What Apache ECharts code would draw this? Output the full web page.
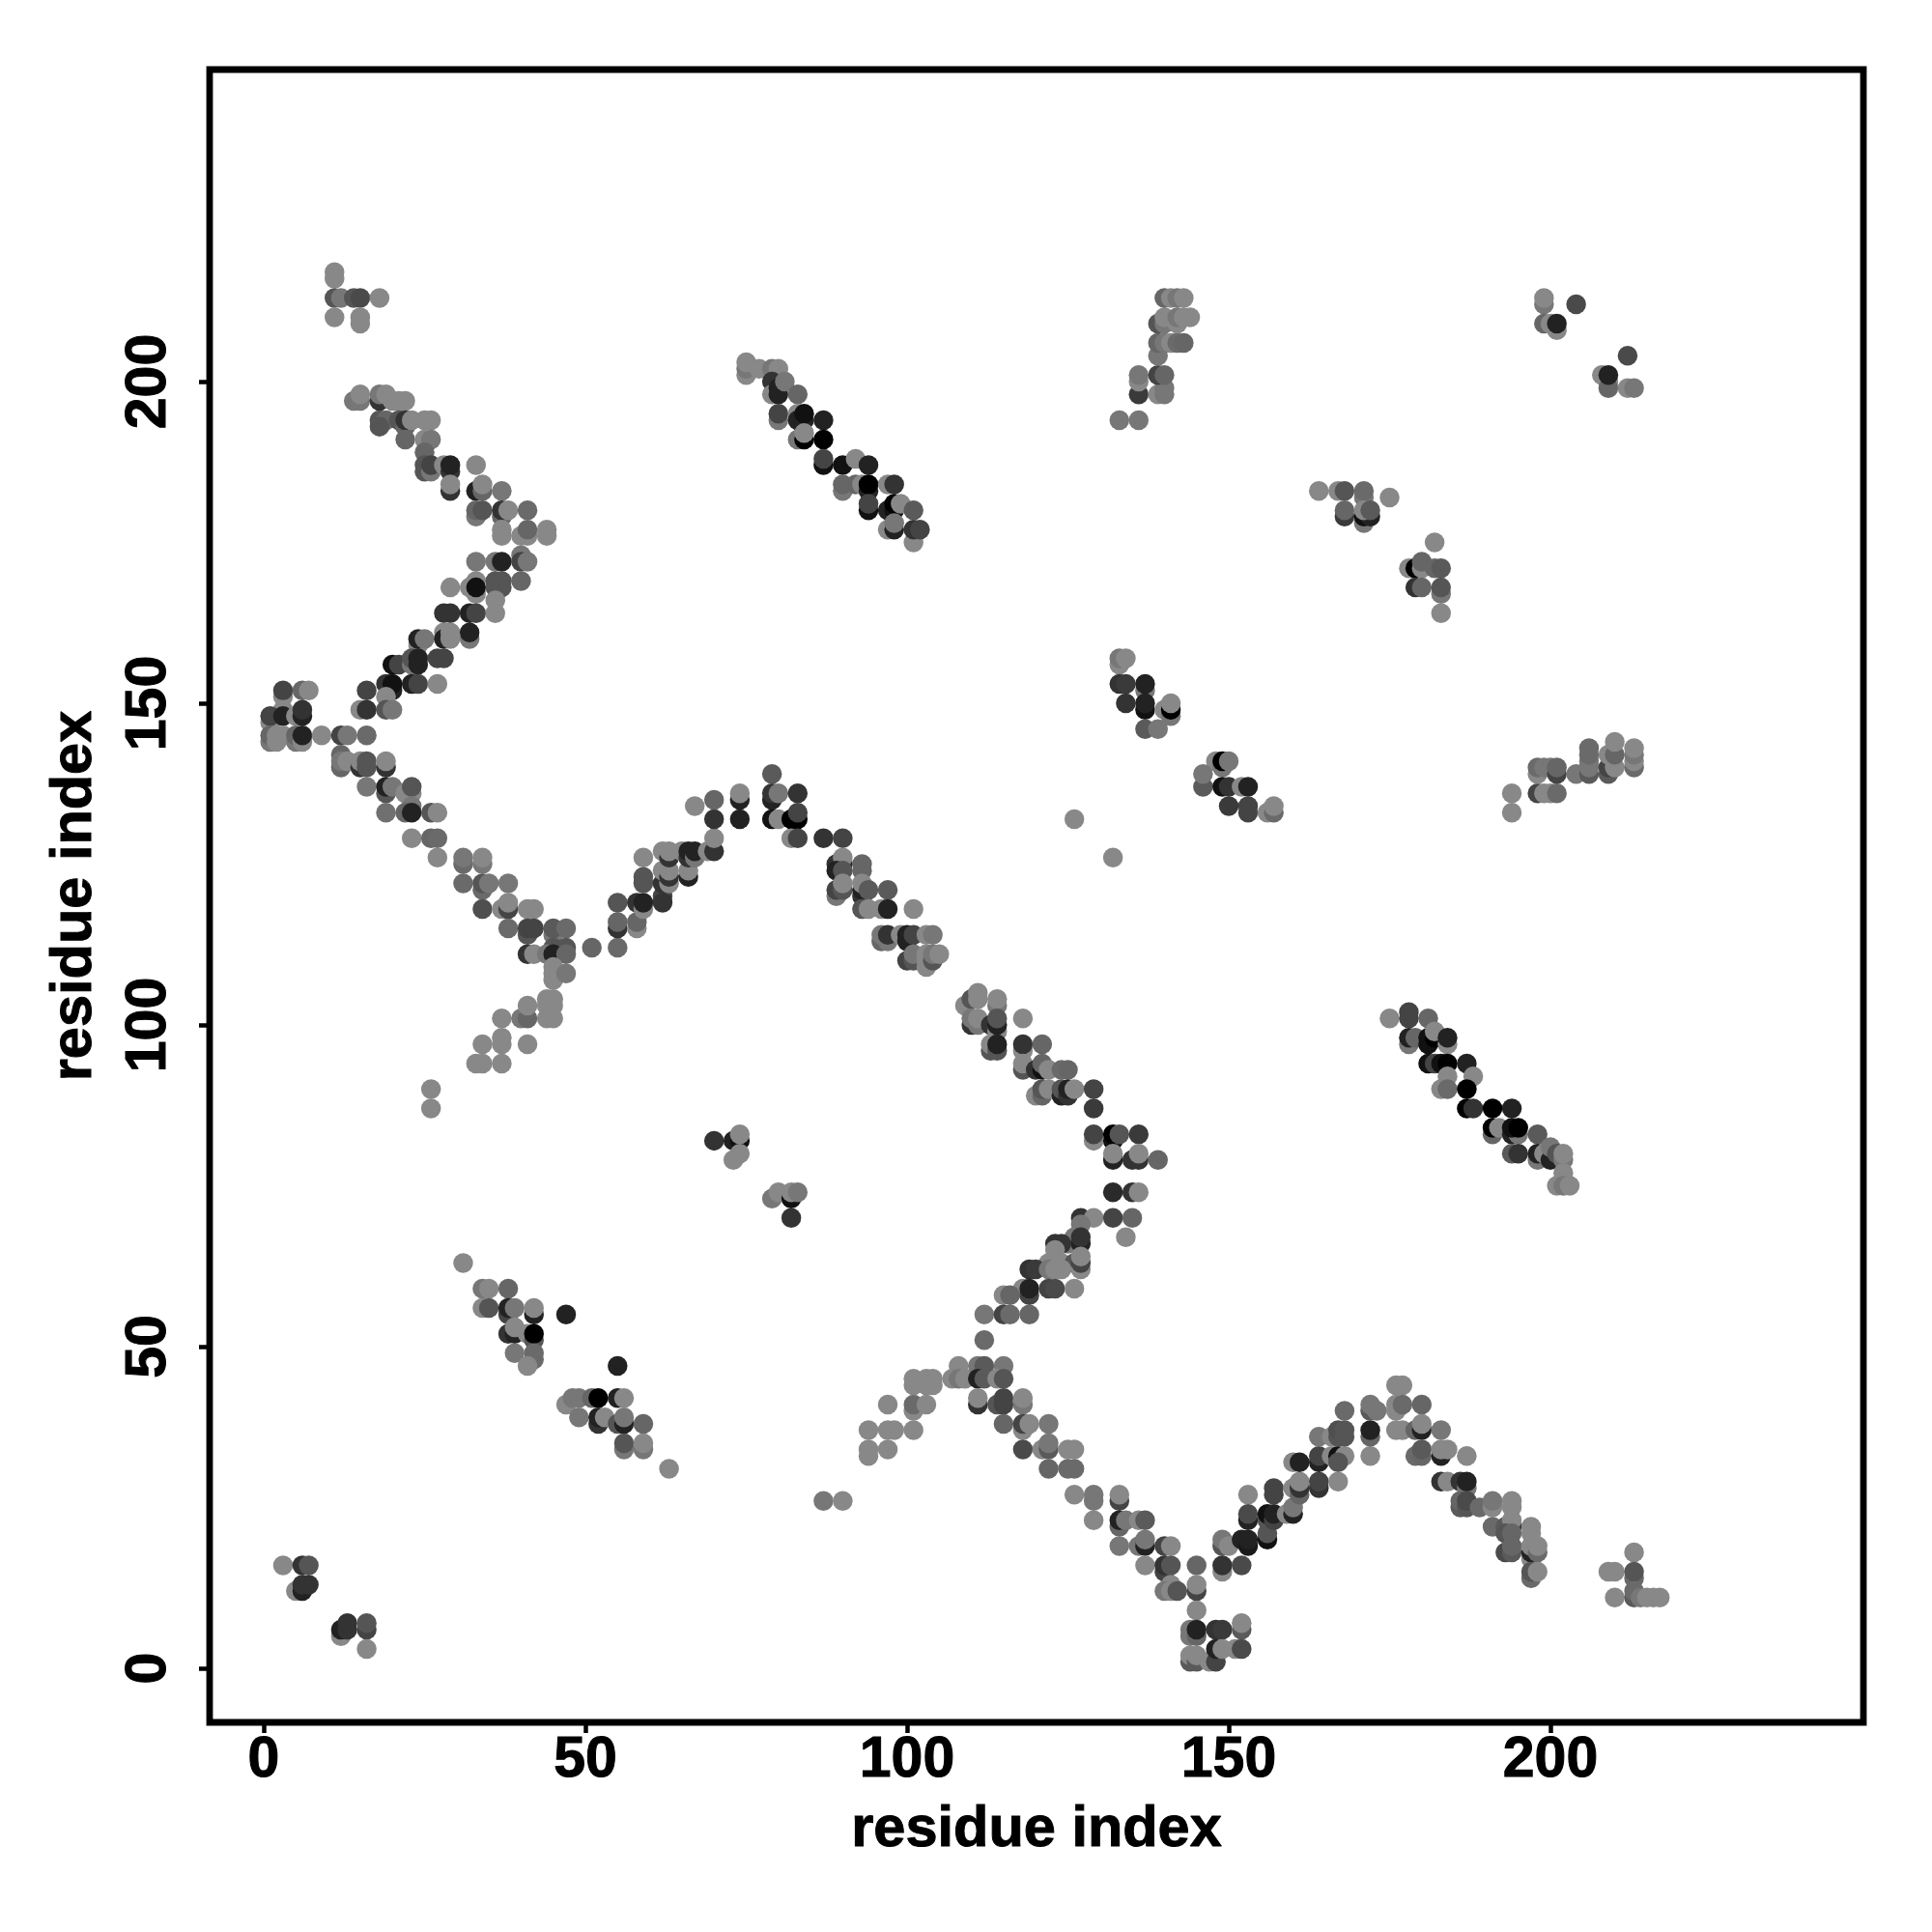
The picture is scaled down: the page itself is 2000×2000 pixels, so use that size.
<!DOCTYPE html>
<html><head><meta charset="utf-8">
<script src="https://cdn.jsdelivr.net/npm/echarts@6/dist/echarts.min.js"></script>
<style>html,body{margin:0;padding:0;background:#fff}#c{width:2000px;height:2000px}</style></head>
<body><div id="c"></div>
<script>
const xTicks=[0,50,100,150,200];
const yTicks=[0,50,100,150,200];
const axisTitle="residue index";
// every point is [residue x, residue y, grey level 0-255]
const topLeft=[[11,217,136],[11,216,136],[11,213,85],[12,213,119],[14,213,85],[15,213,74],[18,213,136],[11,210,136],[15,210,136],[15,209,136]];
const arm1=[[14,197,119],[15,197,119],[15,198,136],[18,197,51],[18,198,119],[19,198,136],[20,197,136],[21,197,136],[22,197,136],[18,194,85],[19,194,102],[18,193,85],[21,194,85],[22,193,102],[22,194,51],[23,194,136],[25,194,136],[26,194,136],[22,191,102],[25,191,136],[26,191,119],[25,189,102],[25,187,85],[25,186,85],[26,186,119],[26,187,68],[28,187,136],[29,186,51],[29,187,34],[33,187,136],[29,183,51],[29,184,136],[33,183,34],[34,183,102],[34,184,136],[37,183,119],[33,179,119],[33,180,102],[34,180,85],[37,179,102],[37,180,51],[38,180,136],[41,180,106],[37,177,136],[37,176,136],[40,176,136],[41,176,136],[41,177,102],[44,176,136],[44,177,136],[40,173,119],[33,172,119],[36,172,119],[37,172,34],[40,172,68],[41,172,119],[33,169,136],[36,169,85],[37,169,85],[40,169,102],[29,168,136],[32,168,136],[33,167,136],[33,168,17],[36,168,85],[37,168,85],[36,166,136],[28,164,51],[29,164,51],[32,164,34],[33,164,68],[36,164,136]];
const arm2=[[24,159,136],[24,160,34],[25,160,119],[28,161,136],[28,160,34],[29,161,136],[29,160,136],[32,160,119],[32,161,34],[20,156,17],[21,156,68],[23,156,119],[23,157,85],[24,156,34],[24,157,34],[27,157,68],[28,157,68],[19,153,51],[20,152,34],[20,153,17],[23,153,34],[24,153,68],[27,153,136],[19,151,136],[3,151,136],[3,152,68],[6,152,102],[7,152,136],[16,152,68],[3,149,136],[19,149,85],[20,149,119],[15,149,136],[16,149,51],[1,147,136],[1,148,68],[3,148,34],[5,148,136],[6,148,34],[6,149,51],[1,144,119],[1,145,102],[2,144,136],[2,145,136],[3,145,136],[5,144,119],[5,145,102],[6,144,136],[6,145,34],[9,145,136],[12,145,68],[13,145,119],[16,145,106]];
const arm3=[[12,142,102],[12,140,102],[12,141,119],[13,141,136],[15,140,51],[15,141,136],[16,140,85],[16,141,85],[19,140,51],[19,141,136],[16,137,119],[19,136,85],[19,137,34],[20,137,119],[22,136,136],[23,136,136],[23,137,85],[23,134,119],[19,133,112],[22,133,102],[23,133,34],[26,133,85],[27,133,136],[23,129,136],[26,129,102],[27,129,106],[27,126,136],[31,125,106],[31,126,119],[34,125,119],[34,126,136],[31,122,106],[34,121,106],[34,122,85],[35,122,119],[38,122,119],[34,118,79],[37,118,136],[38,118,68],[38,119,136],[41,118,136],[42,118,136],[38,115,106],[41,114,85],[41,115,68],[42,115,68],[45,114,119],[45,115,90],[47,115,106],[45,112,85],[47,112,85],[41,111,51],[42,111,136],[44,111,119],[45,111,34],[47,111,102],[45,107,136],[45,108,136],[45,109,136],[47,108,119],[51,112,102],[55,112,106]];
const lowBridge=[[26,90,136],[26,87,136],[33,94,136],[34,94,136],[34,97,136],[37,94,136],[37,97,136],[37,98,136],[37,101,136],[40,101,119],[41,101,102],[41,103,136],[41,97,136],[44,101,136],[45,101,136],[44,103,136],[45,103,136],[44,104,136],[45,104,136]];
const peak1=[[55,115,51],[55,116,102],[55,119,85],[58,115,136],[58,116,102],[58,119,51],[59,118,136],[59,119,34],[59,126,136],[59,122,85],[59,123,85],[62,120,68],[62,119,51],[62,122,51],[62,124,136],[63,122,136],[63,123,51],[63,124,136],[62,127,136],[63,126,51],[63,127,136],[65,127,136],[66,123,34],[66,124,136],[66,126,51],[66,127,34],[67,126,119],[67,127,34],[69,127,136],[70,127,51],[70,129,136],[70,132,51],[70,135,102],[67,134,136],[74,132,34],[74,135,34],[74,136,136],[79,139,90],[79,135,34],[79,136,51],[80,136,119],[83,136,51],[79,132,17],[80,132,136],[82,132,0],[83,132,0],[83,133,68],[82,129,136],[83,129,68],[87,129,51],[90,129,68]];
const fall1=[[89,125,51],[90,125,34],[90,126,136],[89,124,34],[90,124,85],[93,124,102],[93,125,102],[89,120,119],[89,121,68],[90,121,85],[90,122,136],[93,120,51],[93,121,34],[93,122,136],[94,121,90],[97,121,90],[93,118,85],[94,118,136],[96,118,136],[97,118,34],[101,118,136],[96,113,102],[96,114,119],[97,113,119],[97,114,51],[99,114,136],[100,113,34],[100,114,34],[101,114,68],[103,114,136],[104,114,119],[100,110,68],[101,110,85],[101,111,119],[103,109,136],[103,110,136],[103,111,136],[104,110,85],[104,111,119],[105,111,136]];
const isoA=[[70,82,51],[73,82,34],[74,82,17],[74,83,136],[73,79,136],[74,80,136],[79,73,119],[80,74,136],[82,73,17],[82,74,136],[83,74,119],[82,70,51]];
const corner=[[3,16,136],[6,16,51],[7,16,85],[5,12,136],[6,12,34],[6,13,51],[7,13,51],[12,5,136],[12,6,34],[13,6,51],[13,7,51],[16,6,68],[16,7,85],[16,3,136]];
const lowMid=[[31,63,136],[34,59,119],[35,59,136],[38,59,102],[34,56,136],[35,56,85],[38,55,68],[38,56,34],[39,56,119],[42,55,34],[42,56,136],[47,55,34],[38,52,51],[39,52,34],[39,53,136],[41,52,136],[42,51,85],[42,52,0],[42,48,106],[42,49,106],[39,49,119],[41,47,136],[55,47,34],[47,41,136],[48,42,119],[49,42,119],[51,42,102],[52,42,0],[55,42,34],[56,42,136],[49,39,119],[52,38,51],[52,39,34],[53,39,136],[55,38,85],[56,38,34],[56,39,119],[59,38,102],[56,34,119],[56,35,85],[59,34,119],[59,35,136],[63,31,136],[87,26,119],[90,26,136]];
const diag1=[[75,201,136],[75,202,119],[75,203,136],[77,202,136],[79,202,119],[80,202,136],[79,200,51],[79,198,136],[80,199,34],[80,198,34],[81,200,119],[83,198,102],[80,194,119],[80,195,68],[83,195,136],[83,194,34],[84,194,34],[84,195,17],[87,194,34],[83,191,119],[84,191,0],[84,192,136],[87,191,0],[87,187,17],[87,188,68],[90,187,17],[92,188,136],[94,187,34],[90,183,119],[90,184,102],[92,184,102],[93,184,136],[94,183,34],[94,184,0],[97,184,136],[98,184,51],[94,180,17],[94,181,68],[97,180,34],[98,180,17],[98,181,0],[99,181,136],[101,180,90],[97,177,136],[98,177,34],[98,178,119],[101,175,136],[101,177,51],[102,177,68]];
const blockTop=[[133,194,119],[136,194,119],[136,198,58],[136,200,136],[136,201,119],[139,198,136],[140,198,119],[140,199,119],[139,201,68],[140,201,102],[139,204,119],[139,206,102],[140,206,119],[141,206,136],[142,206,106],[143,206,102],[139,209,85],[140,209,119],[140,210,136],[142,209,136],[142,210,119],[143,210,136],[144,210,136],[140,213,102],[141,213,136],[142,213,119],[143,213,136]];
const topRight=[[199,212,119],[199,213,136],[204,212,74],[199,209,102],[200,209,136],[201,208,136],[201,209,34],[212,204,74],[208,201,136],[209,200,136],[209,199,102],[209,201,34],[212,199,136],[213,199,119]];
const midRight=[[164,183,136],[167,183,136],[168,183,85],[171,182,119],[171,183,106],[175,182,136],[168,179,58],[168,180,102],[171,178,119],[171,179,17],[172,179,34],[171,180,136],[172,180,90],[182,175,136],[178,171,136],[179,171,0],[180,171,136],[180,172,102],[182,171,102],[183,171,90],[179,168,51],[180,168,102],[183,167,119],[183,168,85],[183,164,136]];
const midBlock=[[133,156,136],[133,157,119],[134,157,136],[133,153,51],[134,153,58],[137,152,119],[137,153,34],[134,150,51],[137,149,17],[137,150,34],[140,149,136],[141,148,119],[141,149,0],[141,150,136],[137,146,90],[139,146,119],[148,141,136],[149,140,119],[149,141,0],[150,141,119],[146,137,90],[146,139,119],[149,137,17],[150,137,51],[152,137,136],[153,137,34],[150,134,58],[153,133,68],[153,134,68],[156,133,136],[157,133,106],[157,134,136],[132,126,136],[126,132,136]];
const rightBlock=[[194,136,136],[194,133,136],[198,136,68],[199,136,136],[200,136,136],[201,136,106],[198,139,136],[198,140,106],[199,140,119],[200,140,119],[201,139,68],[201,140,102],[204,139,119],[206,139,90],[206,140,119],[206,141,119],[206,142,106],[206,143,106],[209,139,90],[209,140,68],[209,142,136],[210,140,136],[210,142,102],[210,144,136],[213,140,106],[213,141,136],[213,142,119],[213,143,136]];
const diag2=[[175,101,136],[178,101,68],[178,102,68],[181,101,102],[178,97,119],[178,98,34],[179,98,102],[181,97,17],[181,98,17],[182,98,0],[182,99,136],[184,97,136],[184,98,34],[181,94,17],[182,94,68],[183,94,17],[184,94,0],[187,94,34],[184,92,136],[188,92,136],[183,90,136],[184,90,106],[187,90,0],[187,87,0],[188,87,51],[191,87,0],[194,87,34],[191,83,102],[191,84,0],[192,84,136],[194,83,34],[195,83,119],[194,84,17],[195,84,0],[198,83,90],[194,80,90],[195,80,51],[198,79,119],[198,80,34],[199,80,136],[200,79,34],[200,81,119],[201,80,85],[202,79,119],[202,80,136],[202,77,136],[201,75,136],[202,75,119],[203,75,136]];
const descent=[[109,103,136],[110,104,85],[111,104,136],[111,105,136],[114,103,119],[114,104,136],[110,100,51],[110,101,119],[111,100,119],[111,101,136],[113,100,51],[114,99,136],[114,100,34],[114,101,85],[118,101,136],[113,96,85],[113,97,136],[114,96,85],[114,97,34],[118,96,136],[118,97,51],[121,97,102],[118,93,85],[118,94,136],[120,93,51],[121,93,17],[121,94,102],[122,93,136],[124,93,106],[125,93,102],[120,89,136],[121,89,102],[121,90,85],[122,90,136],[124,89,34],[124,90,85],[125,89,51],[125,90,34],[126,90,136],[129,90,68],[129,87,58],[129,82,136],[129,83,68],[132,82,17],[132,83,0],[133,83,85],[136,83,58],[132,79,34],[132,80,136],[135,79,51],[136,79,51],[136,80,136],[139,79,102],[132,74,42],[135,74,51],[136,74,136]];
const rise=[[127,70,51],[129,70,136],[132,70,68],[135,70,102],[134,67,136],[127,69,119],[125,66,119],[126,67,119],[127,66,34],[127,67,51],[123,66,51],[124,66,51],[123,65,136],[122,63,136],[124,63,136],[126,63,85],[127,62,136],[127,63,68],[127,64,136],[119,62,51],[120,62,58],[122,62,119],[123,62,136],[124,62,136],[118,59,136],[119,58,68],[119,59,34],[122,59,68],[123,59,74],[126,59,136],[115,58,136],[116,58,102],[112,55,119],[115,55,68],[116,55,106],[119,55,102],[112,51,106]];
const hill1=[[94,37,136],[94,34,136],[94,33,136],[97,41,136],[97,37,136],[98,37,136],[97,34,136],[101,37,136],[101,40,136],[101,41,106],[103,41,136],[101,44,136],[101,45,136],[103,44,136],[103,45,136],[104,44,136],[104,45,136],[107,45,136],[108,47,136],[108,45,119],[109,45,136],[111,47,119],[112,47,90],[115,47,119],[111,45,34],[112,45,90],[114,45,136],[115,45,85],[111,41,51],[111,42,136],[114,41,85],[115,41,68],[115,42,68],[118,41,119],[118,42,136],[115,38,102],[118,37,136],[118,38,68],[119,38,136],[122,38,119],[118,34,74],[121,34,136],[122,34,90],[122,35,119],[125,34,136],[126,34,136],[122,31,102],[125,31,106],[126,31,106],[126,27,136],[129,26,119],[129,27,119],[133,26,68],[133,27,136],[129,23,136],[133,22,102],[133,23,34],[134,23,119],[136,23,136],[137,23,90],[133,19,119],[136,19,119],[137,19,34],[137,20,119],[140,19,68],[141,19,136],[137,16,136],[140,15,68],[140,16,51],[141,16,85],[141,13,136],[140,12,119],[141,12,136],[142,12,85],[145,16,102],[145,12,68],[145,13,136],[145,9,136]];
const valley=[[144,5,119],[144,6,119],[145,5,102],[145,6,34],[148,6,51],[149,6,58],[152,6,90],[152,7,136],[144,1,90],[144,2,136],[145,1,90],[145,2,136],[147,1,136],[148,1,68],[148,3,34],[149,3,136],[151,3,136],[152,3,74],[149,19,85],[149,20,119],[150,19,136],[152,20,34],[153,19,26],[153,20,34],[149,15,136],[149,16,51],[152,16,74],[153,27,136],[153,23,34],[153,24,74],[156,20,17],[156,21,85],[156,23,85],[156,24,17],[157,23,68],[157,24,34],[157,27,68],[157,28,68],[159,24,136],[160,24,34],[160,25,119],[160,28,136],[161,27,102],[161,28,51],[161,29,136],[160,32,136],[161,32,34]];
const hill2=[[164,28,51],[164,29,68],[164,32,34],[164,33,68],[164,36,119],[166,36,136],[166,33,136],[167,33,17],[168,33,136],[167,32,85],[167,29,136],[167,36,85],[167,37,79],[168,36,85],[168,37,85],[168,40,106],[172,33,136],[172,36,102],[172,37,34],[172,40,90],[172,41,119],[173,40,119],[176,44,136],[177,44,136],[176,40,136],[176,41,136],[177,41,106],[180,41,102],[176,37,136],[177,37,136],[179,37,102],[180,37,34],[180,38,136],[183,37,119],[179,33,106],[180,33,102],[180,34,90],[183,33,34],[183,34,136],[184,34,136],[187,33,136],[183,29,51],[184,29,136],[186,29,51],[187,28,119],[187,29,34],[186,25,90],[186,26,102],[187,25,85],[187,26,74],[189,25,106],[191,25,136],[191,26,119],[194,25,136],[194,26,136],[191,22,106],[193,22,90],[194,22,51],[194,23,136],[193,21,85],[194,21,102],[193,18,74],[194,18,90],[194,19,102],[197,22,136],[197,21,136],[197,17,136],[197,18,34],[197,19,136],[198,18,106],[198,19,136],[197,14,106],[197,15,85],[198,15,136]];
const farRight=[[213,18,136],[209,15,136],[210,15,136],[213,14,106],[213,15,85],[210,11,136],[213,11,90],[213,12,106],[214,11,119],[215,11,136],[216,11,136],[217,11,136]];

const points=[].concat(topLeft,arm1,arm2,arm3,lowBridge,peak1,fall1,isoA,corner,lowMid,diag1,blockTop,topRight,midRight,midBlock,rightBlock,diag2,descent,rise,hill1,valley,hill2,farRight);

function axis(ticks,min,max,rot,gap,margin){
  return {type:'value',min:min,max:max,name:axisTitle,nameLocation:'middle',nameGap:gap,
    nameTextStyle:{fontFamily:'Liberation Sans',fontWeight:'bold',fontSize:59.5,color:'#000',textBorderColor:'#000',textBorderWidth:1},
    splitLine:{show:false},axisLine:{show:false,onZero:false},
    axisTick:{show:true,length:11,lineStyle:{color:'#000',width:4.5},customValues:ticks},
    axisLabel:{show:true,rotate:rot,margin:margin,fontFamily:'Liberation Sans',fontWeight:'bold',fontSize:59,color:'#000',textBorderColor:'#000',textBorderWidth:1,customValues:ticks,formatter:v=>String(v)}};
}
const chart=echarts.init(document.getElementById('c'),null,{renderer:'canvas'});
chart.setOption({animation:false,backgroundColor:'#fff',
  grid:{show:true,left:217,top:72,width:1712,height:1711,borderColor:'#000',borderWidth:6.8,backgroundColor:'transparent',containLabel:false},
  xAxis:axis(xTicks,-8.41,248.65,0,82,10),
  yAxis:axis(yTicks,-8.41,248.5,90,109,33),
  series:[{type:'scatter',data:points,symbol:'circle',symbolSize:20.5,progressive:0,large:false,silent:true,
    itemStyle:{opacity:1,color:p=>{const g=p.data[2];return 'rgb('+g+','+g+','+g+')';}}}]
});
</script></body></html>
